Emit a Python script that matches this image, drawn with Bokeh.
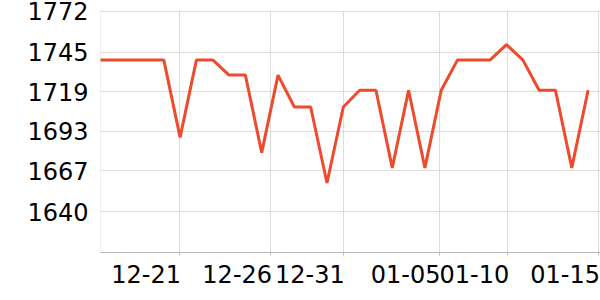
from bokeh.plotting import figure
from bokeh.models import Range1d, FixedTicker
from bokeh.embed import file_html
from bokeh.resources import INLINE

# data (index-based trading days)
values = [1740, 1740, 1740, 1740, 1740, 1689, 1740, 1740, 1730, 1730,
          1679, 1730, 1709, 1709, 1659, 1709, 1720, 1720, 1669, 1720,
          1669, 1720, 1740, 1740, 1740, 1750, 1740, 1720, 1720, 1669, 1720]
xs = list(range(len(values)))

y_ticks = [1640, 1667, 1693, 1719, 1745, 1772]
x_tick_labels = ["12-16", "12-21", "12-26", "12-31", "01-05", "01-10", "01-15"]
x_tick_pos = [0.12, 4.97, 10.55, 15.0, 20.87, 25.08, 30.64]

p = figure(width=600, height=300, output_backend="svg", toolbar_location=None,
           x_range=Range1d(0.1225, 30.76), y_range=Range1d(1613.3, 1772.5),
           min_border_left=100, min_border_right=0, min_border_top=10,
           min_border_bottom=48)
p.outline_line_color = None
p.background_fill_color = "white"

p.line(xs, values, line_color="#ee4a2e", line_width=3)

# label shift so that each label ends at its tick
shift = 2.05
label_pos = [t - shift for t in x_tick_pos[1:]]
p.xaxis.ticker = FixedTicker(ticks=label_pos, minor_ticks=x_tick_pos)
p.xaxis.major_label_overrides = {lp: lab for lp, lab in zip(label_pos, x_tick_labels[1:])}
p.xaxis.major_tick_line_color = None
p.xaxis.major_tick_out = 0
p.xaxis.major_tick_in = 0
p.xaxis.minor_tick_line_color = "#bbbbbb"
p.xaxis.minor_tick_out = 3
p.xaxis.minor_tick_in = 0
p.xaxis.axis_line_color = "#bbbbbb"
p.xaxis.major_label_text_font = "DejaVu Sans"
p.xaxis.major_label_text_font_size = "24px"
p.xaxis.major_label_text_color = "black"
p.xaxis.major_label_standoff = 9
p.xgrid.ticker = FixedTicker(ticks=x_tick_pos)
p.xgrid.grid_line_color = "#dddddd"

p.yaxis.ticker = FixedTicker(ticks=y_ticks)
p.yaxis.axis_line_color = None
p.yaxis.major_tick_line_color = None
p.yaxis.minor_tick_line_color = None
p.yaxis.major_tick_out = 0
p.yaxis.major_tick_in = 0
p.yaxis.major_label_text_font = "DejaVu Sans"
p.yaxis.major_label_text_font_size = "24px"
p.yaxis.major_label_text_color = "black"
p.yaxis.major_label_standoff = 12
p.ygrid.grid_line_color = "#dddddd"

open("out.html", "w").write(file_html(p, INLINE))
